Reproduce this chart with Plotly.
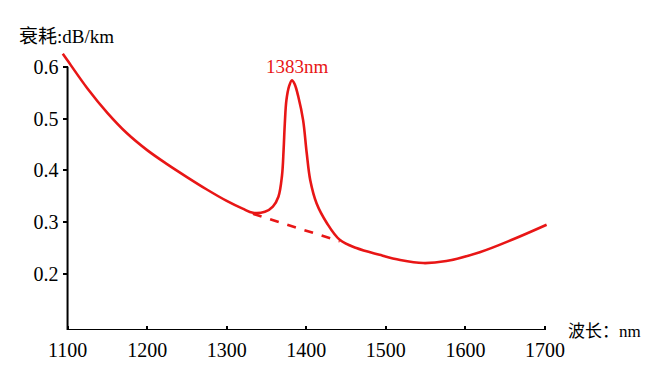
import plotly.graph_objects as go

# Attenuation curve (wavelength nm, attenuation dB/km)
wavelength = [1094, 1100, 1125, 1150, 1175, 1200, 1225, 1250, 1275, 1300, 1320, 1333,
              1348, 1358, 1365, 1369.5, 1371.5, 1373, 1375, 1378.5, 1382, 1385.5, 1390,
              1396, 1400.5, 1405, 1413, 1426, 1442, 1463, 1492, 1518, 1547, 1576, 1618,
              1660, 1702]
attenuation = [0.625, 0.612, 0.558, 0.511, 0.471, 0.439, 0.412, 0.387, 0.363, 0.341, 0.326, 0.318,
               0.320, 0.330, 0.349, 0.390, 0.440, 0.490, 0.535, 0.563, 0.574, 0.566, 0.542,
               0.497, 0.434, 0.381, 0.336, 0.298, 0.266, 0.250, 0.237, 0.227, 0.221, 0.225, 0.242,
               0.267, 0.295]

# Dashed baseline under the water peak
base_wavelength = [1333, 1442]
base_attenuation = [0.316, 0.263]

x_ticks = [1100, 1200, 1300, 1400, 1500, 1600, 1700]
y_ticks = [0.2, 0.3, 0.4, 0.5, 0.6]

peak_label = "1383nm"
peak_label_pos = (1389, 0.601)

RED = "rgb(232,22,22)"
SERIF = "Liberation Serif, Noto Sans CJK SC"

X_MIN, X_MAX = 1088, 1705
Y_MIN, Y_MAX = 0.0918, 0.64

fig = go.Figure()
fig.add_trace(go.Scatter(x=wavelength, y=attenuation, mode="lines",
                         line=dict(color=RED, width=2.6, shape="spline", smoothing=1.0),
                         hoverinfo="skip", showlegend=False, cliponaxis=False))
fig.add_trace(go.Scatter(x=base_wavelength, y=base_attenuation, mode="lines",
                         line=dict(color=RED, width=2.6, dash="dash"),
                         hoverinfo="skip", showlegend=False))

# axis lines
fig.add_shape(type="line", xref="x", yref="y", x0=x_ticks[0], x1=x_ticks[-1], y0=Y_MIN, y1=Y_MIN,
              line=dict(color="black", width=2))
fig.add_shape(type="line", xref="x", yref="y", x0=x_ticks[0], x1=x_ticks[0], y0=Y_MIN, y1=y_ticks[-1],
              line=dict(color="black", width=2))

fig.add_annotation(x=peak_label_pos[0], y=peak_label_pos[1], xref="x", yref="y", text=peak_label,
                   showarrow=False, font=dict(family=SERIF, size=19, color=RED))
fig.add_annotation(x=-0.0835, y=1.035, xref="paper", yref="paper", text="衰耗:dB/km",
                   showarrow=False, xanchor="left", yanchor="middle",
                   font=dict(family=SERIF, size=19, color="black"))
fig.add_annotation(x=1.0346, y=-0.004, xref="paper", yref="paper", text="波长：nm",
                   showarrow=False, xanchor="left", yanchor="middle",
                   font=dict(family=SERIF, size=17, color="black"))

# the page body has an 8px margin, so the figure is drawn 8px right / down
OFF = 8
L, R, T, B = 58 - OFF, 116, 46 - OFF, 46
W = 491
y_axis_pos = (67.5 - 58) / W

fig.update_layout(
    width=665 - OFF, height=376 - OFF,
    margin=dict(l=L, r=R, t=T, b=B, autoexpand=False),
    paper_bgcolor="white", plot_bgcolor="white",
    xaxis=dict(range=[X_MIN, X_MAX], tickvals=x_ticks, ticktext=[str(v) for v in x_ticks],
               showgrid=False, zeroline=False, showline=False, automargin=False,
               ticks="inside", ticklen=4, tickwidth=2, tickcolor="black",
               ticklabelstandoff=6,
               tickfont=dict(family=SERIF, size=20, color="black")),
    yaxis=dict(range=[Y_MIN, Y_MAX], tickvals=y_ticks, ticktext=[f"{v:.1f}" for v in y_ticks],
               anchor="free", position=y_axis_pos, automargin=False,
               showgrid=False, zeroline=False, showline=False,
               ticks="outside", ticklen=5, tickwidth=2, tickcolor="black",
               tickfont=dict(family=SERIF, size=20, color="black")),
)

fig.write_html("out.html")
